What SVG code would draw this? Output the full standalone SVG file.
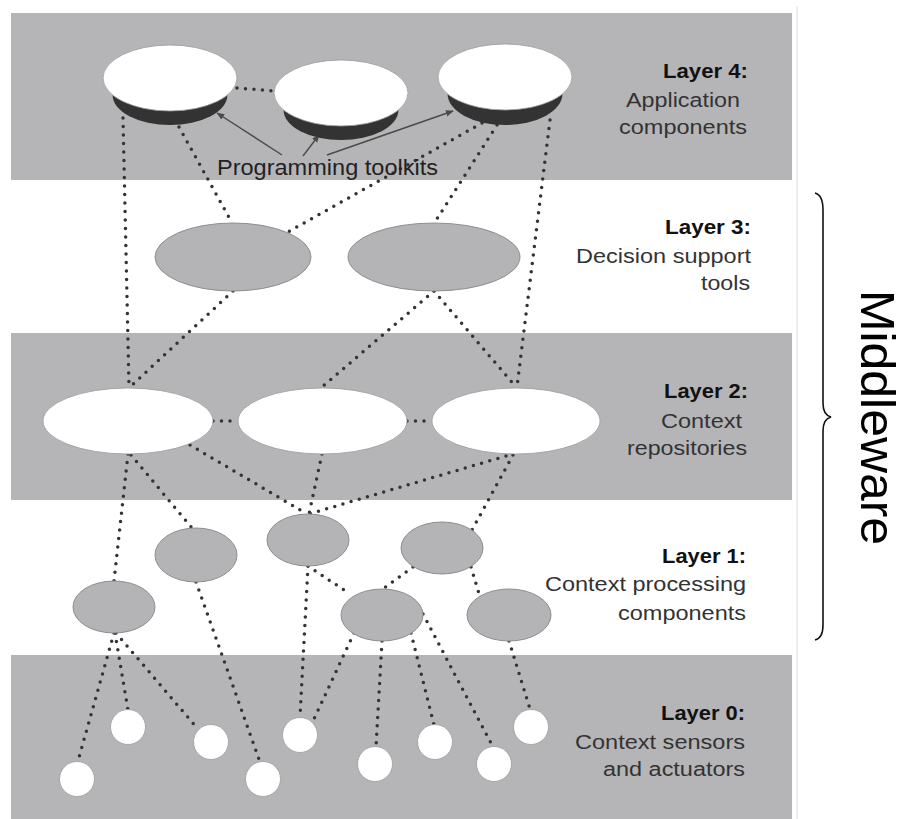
<svg xmlns="http://www.w3.org/2000/svg" width="906" height="819" viewBox="0 0 906 819">
<style>
.band{fill:#b5b5b7}
.dot{fill:none;stroke:#333;stroke-width:3.5;stroke-linecap:round;stroke-dasharray:0 8.5}
.arr{fill:none;stroke:#4a4a4a;stroke-width:1.4}
.white{fill:#fff;stroke:#9a9a9a;stroke-width:0.8}
.grey{fill:#b4b4b6;stroke:#8e8e90;stroke-width:1}
.bowl{fill:#333}
.sensor{fill:#fff;stroke:#9a9a9a;stroke-width:0.8}
.lbl{font-family:"Liberation Sans",Arial,sans-serif;font-size:20px;fill:#333;text-anchor:end}
.lblb{font-family:"Liberation Sans",Arial,sans-serif;font-size:20px;font-weight:bold;fill:#111;text-anchor:end}
</style>
<defs>
<marker id="ah" viewBox="0 0 10 10" refX="9" refY="5" markerWidth="8" markerHeight="8" markerUnits="userSpaceOnUse" orient="auto">
<path d="M0,1 L10,5 L0,9 z" fill="#4a4a4a"/>
</marker>
</defs>
<rect width="906" height="819" fill="#fff"/>
<g id="bands">
<rect class="band" x="11" y="13" width="781" height="167"/>
<rect class="band" x="11" y="333" width="781" height="167"/>
<rect class="band" x="11" y="655" width="781" height="164"/>
<line x1="797" y1="6" x2="797" y2="819" stroke="#dddddd" stroke-width="1"/>
</g>
<g id="connectors">
<path class="dot" d="M123,118 L129,387"/>
<path class="dot" d="M179,127 L231,221"/>
<path class="dot" d="M237,88 L275,91"/>
<path class="dot" d="M482,123 L288,232"/>
<path class="dot" d="M497,125 L435,222"/>
<path class="dot" d="M550,120 L517,387"/>
<path class="dot" d="M233,291 L130,387"/>
<path class="dot" d="M434,291 L322,387"/>
<path class="dot" d="M434,291 L516,387"/>
<path class="dot" d="M213,421 L238,421"/>
<path class="dot" d="M407,421 L432,421"/>
<path class="dot" d="M128,454 L114,581"/>
<path class="dot" d="M131,455 L192,528"/>
<path class="dot" d="M190,445 L307,514"/>
<path class="dot" d="M322,454 L309,514"/>
<path class="dot" d="M506,456 L309,514"/>
<path class="dot" d="M513,455 L472,530"/>
<path class="dot" d="M308,566 L347,592"/>
<path class="dot" d="M413,567 L383,589"/>
<path class="dot" d="M471,567 L480,597"/>
<path class="dot" d="M114,633 L78,761"/>
<path class="dot" d="M115,633 L128,710"/>
<path class="dot" d="M116,633 L197,728"/>
<path class="dot" d="M196,582 L260,762"/>
<path class="dot" d="M308,566 L300,717"/>
<path class="dot" d="M354,633 L314,719"/>
<path class="dot" d="M382,641 L376,747"/>
<path class="dot" d="M411,633 L434,725"/>
<path class="dot" d="M423,614 L493,747"/>
<path class="dot" d="M509,641 L530,709"/>
<path class="arr" d="M282,155 L217,113" marker-end="url(#ah)"/>
<path class="arr" d="M303,156 L319,135" marker-end="url(#ah)"/>
<path class="arr" d="M327,155 L453,111" marker-end="url(#ah)"/>
</g>
<g id="app1"><path class="bowl" d="M112.6,95 A57.4,30 0 0 0 227.4,95 Z"/><ellipse class="white" cx="170" cy="78" rx="67" ry="33"/></g>
<g id="app2"><path class="bowl" d="M283.6,110 A57.4,30 0 0 0 398.4,110 Z"/><ellipse class="white" cx="341" cy="93" rx="67" ry="33"/></g>
<g id="app3"><path class="bowl" d="M447.6,94 A57.4,31 0 0 0 562.4,94 Z"/><ellipse class="white" cx="505" cy="77" rx="67" ry="33"/></g>
<g id="toolkits-label"><text x="217" y="175" font-family="'Liberation Sans',Arial,sans-serif" font-size="22" fill="#222" textLength="221" lengthAdjust="spacingAndGlyphs">Programming toolkits</text></g>
<g id="dst1"><ellipse class="grey" cx="233" cy="257" rx="78" ry="34"/></g>
<g id="dst2"><ellipse class="grey" cx="434" cy="257" rx="86" ry="34"/></g>
<g id="repo1"><ellipse class="white" cx="128" cy="421" rx="85" ry="33"/></g>
<g id="repo2"><ellipse class="white" cx="322.5" cy="421" rx="84.5" ry="33"/></g>
<g id="repo3"><ellipse class="white" cx="516" cy="421" rx="84" ry="33"/></g>
<g id="proc1"><ellipse class="grey" cx="114" cy="607" rx="41" ry="26"/></g>
<g id="proc2"><ellipse class="grey" cx="196" cy="555" rx="41" ry="27"/></g>
<g id="proc3"><ellipse class="grey" cx="308" cy="540" rx="41" ry="26"/></g>
<g id="proc4"><ellipse class="grey" cx="442" cy="548" rx="41" ry="26"/></g>
<g id="proc5"><ellipse class="grey" cx="382" cy="615" rx="41" ry="26"/></g>
<g id="proc6"><ellipse class="grey" cx="509" cy="615" rx="42" ry="26"/></g>
<g id="s1"><circle class="sensor" cx="77" cy="779" r="17.5"/></g>
<g id="s2"><circle class="sensor" cx="128" cy="727" r="17.5"/></g>
<g id="s3"><circle class="sensor" cx="211" cy="742" r="17.5"/></g>
<g id="s4"><circle class="sensor" cx="263" cy="779" r="17.5"/></g>
<g id="s5"><circle class="sensor" cx="300" cy="735" r="17.5"/></g>
<g id="s6"><circle class="sensor" cx="375" cy="764" r="17.5"/></g>
<g id="s7"><circle class="sensor" cx="435" cy="742" r="17.5"/></g>
<g id="s8"><circle class="sensor" cx="494" cy="764" r="17.5"/></g>
<g id="s9"><circle class="sensor" cx="531" cy="727" r="17.5"/></g>
<g id="layer-labels">
<text class="lblb" x="748" y="78" textLength="85" lengthAdjust="spacingAndGlyphs">Layer 4:</text>
<text class="lbl" x="740" y="107" textLength="114" lengthAdjust="spacingAndGlyphs">Application</text>
<text class="lbl" x="747" y="134" textLength="128" lengthAdjust="spacingAndGlyphs">components</text>
<text class="lblb" x="751" y="234" textLength="86" lengthAdjust="spacingAndGlyphs">Layer 3:</text>
<text class="lbl" x="751" y="263" textLength="175" lengthAdjust="spacingAndGlyphs">Decision support</text>
<text class="lbl" x="750" y="290" textLength="49" lengthAdjust="spacingAndGlyphs">tools</text>
<text class="lblb" x="748" y="398" textLength="84" lengthAdjust="spacingAndGlyphs">Layer 2:</text>
<text class="lbl" x="742" y="428" textLength="81" lengthAdjust="spacingAndGlyphs">Context</text>
<text class="lbl" x="747" y="455" textLength="120" lengthAdjust="spacingAndGlyphs">repositories</text>
<text class="lblb" x="746" y="563" textLength="84" lengthAdjust="spacingAndGlyphs">Layer 1:</text>
<text class="lbl" x="746" y="591" textLength="201" lengthAdjust="spacingAndGlyphs">Context processing</text>
<text class="lbl" x="746" y="620" textLength="128" lengthAdjust="spacingAndGlyphs">components</text>
<text class="lblb" x="745" y="720" textLength="84" lengthAdjust="spacingAndGlyphs">Layer 0:</text>
<text class="lbl" x="745" y="749" textLength="170" lengthAdjust="spacingAndGlyphs">Context sensors</text>
<text class="lbl" x="745" y="776" textLength="142" lengthAdjust="spacingAndGlyphs">and actuators</text>
</g>
<g id="middleware">
<path d="M815,193 Q823,195 823,210 L823,403 Q823,415 831,417 Q823,419 823,431 L823,625 Q823,638 815,640" fill="none" stroke="#111" stroke-width="1.6"/>
<text transform="translate(861,290) rotate(90)" font-family="'Liberation Sans',Arial,sans-serif" font-size="48" fill="#000" textLength="255" lengthAdjust="spacingAndGlyphs">Middleware</text>
</g>
</svg>
